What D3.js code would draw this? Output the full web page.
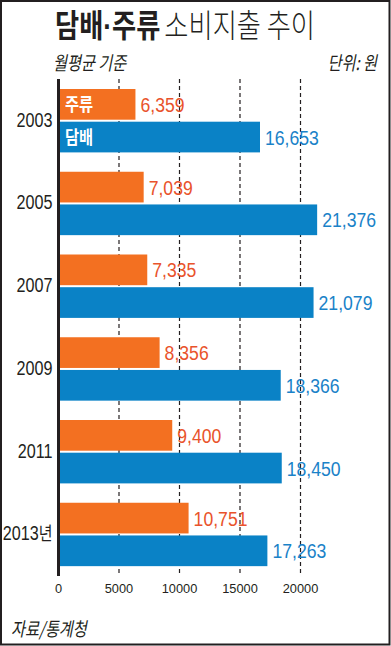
<!DOCTYPE html>
<html>
<head>
<meta charset="utf-8">
<script src="https://cdn.jsdelivr.net/npm/d3@7"></script>
<style>
	body { margin: 0; background: #fff; }
	svg { display: block; }
	.num { font-family: "Liberation Sans", Arial, sans-serif; }
	.kr { font-family: "Noto Sans CJK KR", "Noto Sans", sans-serif; }
</style>
</head>
<body>
<div id="chart"></div>
<script>
var years = ["2003", "2005", "2007", "2009", "2011", "2013년"];
var alcohol = [6359, 7039, 7335, 8356, 9400, 10751];
var tobacco = [16653, 21376, 21079, 18366, 18450, 17263];
var ticks = [0, 5000, 10000, 15000, 20000];

var width = 391,
	height = 646;

var ink = "#231f20";

var svg = d3.select("#chart")
	.append("svg")
	.attr("width", width)
	.attr("height", height);

// text squeezed horizontally, like the condensed faces of the original
function squeezed(parent, x, y, sx) {
	return parent.append("text")
		.attr("transform", "translate(" + x + "," + y + ") scale(" + sx + ",1)");
}

// frame
svg.append("rect")
	.attr("x", 1)
	.attr("y", 1)
	.attr("width", width - 2.5)
	.attr("height", height - 2.5)
	.attr("fill", "none")
	.attr("stroke", ink)
	.attr("stroke-width", 2);

var x = d3.scaleLinear()
	.domain([0, 20000])
	.range([58.5, 300.5]);

var y = d3.scaleBand()
	.domain(years)
	.range([89, 585.5]);

var barH = 30.7,
	gap = 2;

// gridlines
svg.selectAll("line.grid")
	.data(ticks.slice(1))
	.enter()
	.append("line")
	.attr("class", "grid")
	.attr("x1", function(d) { return x(d); })
	.attr("x2", function(d) { return x(d); })
	.attr("y1", 79)
	.attr("y2", 576)
	.attr("stroke", ink)
	.attr("stroke-width", 1.2)
	.attr("stroke-dasharray", "4,3");

var g = svg.selectAll("g.year")
	.data(years)
	.enter()
	.append("g")
	.attr("class", "year")
	.attr("transform", function(d) { return "translate(0," + y(d) + ")"; });

g.append("rect")
	.attr("x", x(0))
	.attr("y", 0)
	.attr("width", function(d, i) { return x(alcohol[i]) - x(0); })
	.attr("height", barH)
	.attr("fill", "#f37021");

g.append("rect")
	.attr("x", x(0))
	.attr("y", barH + gap)
	.attr("width", function(d, i) { return x(tobacco[i]) - x(0); })
	.attr("height", barH)
	.attr("fill", "#0a82c6");

g.each(function(d, i) {
	var el = d3.select(this);

	squeezed(el, x(alcohol[i]) + 5, barH / 2 + 7.5, 0.84)
		.attr("class", "num")
		.attr("font-size", 21)
		.attr("fill", "#e9532b")
		.text(d3.format(",")(alcohol[i]));

	squeezed(el, x(tobacco[i]) + 5, barH + gap + barH / 2 + 7.5, 0.84)
		.attr("class", "num")
		.attr("font-size", 21)
		.attr("fill", "#1a82c8")
		.text(d3.format(",")(tobacco[i]));

	var lab = squeezed(el, 52.5, barH + gap / 2 + 6, 0.83)
		.attr("class", "num")
		.attr("text-anchor", "end")
		.attr("font-size", 19.5)
		.attr("fill", ink);
	lab.append("tspan").text(d.replace("년", ""));
	if (d.indexOf("년") >= 0) {
		lab.append("tspan")
			.attr("class", "kr")
			.attr("font-size", 18)
			.text("년");
	}
});

// series names inside the first group
var first = g.filter(function(d, i) { return i === 0; });
squeezed(first, 65, barH / 2 + 6.5, 0.85)
	.attr("class", "kr")
	.attr("font-size", 18)
	.attr("font-weight", "bold")
	.attr("fill", "#fff")
	.text("주류");
squeezed(first, 65, barH + gap + barH / 2 + 6.5, 0.85)
	.attr("class", "kr")
	.attr("font-size", 18)
	.attr("font-weight", "bold")
	.attr("fill", "#fff")
	.text("담배");

// axis line
svg.append("line")
	.attr("x1", x(0))
	.attr("x2", x(0))
	.attr("y1", 79)
	.attr("y2", 576)
	.attr("stroke", ink)
	.attr("stroke-width", 3);

// tick labels
ticks.forEach(function(t) {
	squeezed(svg, x(t), 593, 0.95)
		.attr("class", "num")
		.attr("text-anchor", "middle")
		.attr("font-size", 13.5)
		.attr("fill", ink)
		.text(t);
});

// title
var title = squeezed(svg, 55, 37, 0.82)
	.attr("class", "kr")
	.attr("font-size", 32)
	.attr("fill", ink);
title.append("tspan")
	.attr("font-weight", "bold")
	.text("담배");
title.append("tspan")
	.attr("font-weight", "bold")
	.attr("font-family", "Liberation Sans, sans-serif")
	.text("·");
title.append("tspan")
	.attr("font-weight", "bold")
	.text("주류");
title.append("tspan")
	.attr("dx", 5)
	.attr("font-weight", 300)
	.text("소비지출 추이");

squeezed(svg, 53, 70, 0.8)
	.attr("class", "kr")
	.attr("font-size", 19)
	.attr("font-style", "italic")
	.attr("fill", ink)
	.text("월평균 기준");

squeezed(svg, 377, 70, 0.8)
	.attr("class", "kr")
	.attr("text-anchor", "end")
	.attr("font-size", 19)
	.attr("font-style", "italic")
	.attr("fill", ink)
	.text("단위: 원");

squeezed(svg, 11, 636, 0.8)
	.attr("class", "kr")
	.attr("font-size", 19)
	.attr("font-style", "italic")
	.attr("fill", ink)
	.text("자료/통계청");
</script>
</body>
</html>
